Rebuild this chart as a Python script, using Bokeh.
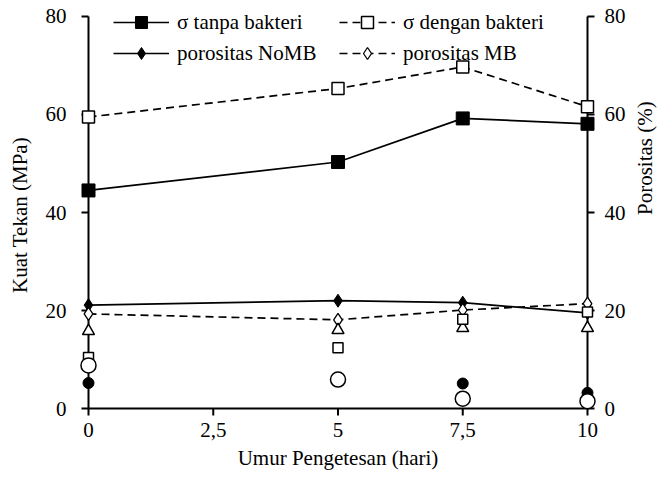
import numpy as np
from bokeh.plotting import figure
from bokeh.models import Range1d, LinearAxis, FixedTicker, Legend, LegendItem
from bokeh.embed import file_html
from bokeh.resources import INLINE

# ---- data ----
umur = [0, 5, 7.5, 10]
sigma_tanpa = [44.5, 50.3, 59.2, 58.1]
sigma_dengan = [59.5, 65.3, 69.7, 61.6]
por_nomb = [21.1, 22.0, 21.6, 19.5]
por_mb = [19.3, 18.1, 20.1, 21.4]
seri_segitiga = [15.8, 16.0, 16.4, 16.4]
seri_kotak = [10.4, 12.4, 18.2, 19.7]
seri_bulat = [5.2, 5.9, 5.1, 3.2]
seri_lingkaran = [8.8, 5.9, 2.0, 1.5]

x_ticks = [0, 2.5, 5, 7.5, 10]
x_tick_labels = {2.5: "2,5", 7.5: "7,5"}
y_ticks = [0, 20, 40, 60, 80]

FONT = "Liberation Serif"
FS = "21px"
BLK = "black"

p = figure(width=672, height=479, output_backend="svg", toolbar_location=None,
           x_range=Range1d(-0.2405, 10.2405), y_range=Range1d(-2.04, 81.02),
           min_border_left=76, min_border_right=73, min_border_top=11, min_border_bottom=61)
p.extra_y_ranges = {"por": Range1d(-2.04, 81.02)}
p.xgrid.visible = False
p.ygrid.visible = False
p.outline_line_color = None
p.background_fill_color = "white"
p.border_fill_color = "white"

raxis = LinearAxis(y_range_name="por")
p.add_layout(raxis, "right")

# axes give the texts; their lines and ticks are drawn at the data bounds below
for ax in [p.xaxis[0], p.yaxis[0], raxis]:
    ax.axis_line_color = None
    ax.major_tick_line_color = None
    ax.major_tick_out = 0
    ax.major_tick_in = 0
    ax.minor_tick_line_color = None
    ax.major_label_text_font = FONT
    ax.major_label_text_font_size = FS
    ax.major_label_text_color = BLK
    ax.axis_label_text_font = FONT
    ax.axis_label_text_font_size = FS
    ax.axis_label_text_font_style = "normal"
    ax.axis_label_text_color = BLK

xa = p.xaxis[0]
xa.ticker = FixedTicker(ticks=x_ticks)
xa.major_label_overrides = x_tick_labels
xa.axis_label = "Umur Pengetesan (hari)"
xa.major_label_standoff = 4
xa.axis_label_standoff = 6

ya = p.yaxis[0]
ya.ticker = FixedTicker(ticks=y_ticks)
ya.axis_label = "Kuat Tekan (MPa)"
ya.major_label_standoff = 10
ya.axis_label_standoff = 11

raxis.ticker = FixedTicker(ticks=y_ticks)
raxis.axis_label = "Porositas (%)"
raxis.major_label_standoff = 5
raxis.axis_label_standoff = 16
try:
    raxis.axis_label_orientation = np.pi / 2
except Exception:
    pass

# axis lines and outward ticks at the data bounds
AX_W = 2
x0, x1 = x_ticks[0], x_ticks[-1]
y0, y1 = y_ticks[0], y_ticks[-1]
p.segment(x0=[x0, x0, x1], y0=[y0, y0, y0], x1=[x0, x1, x1], y1=[y1, y0, y1],
          line_color=BLK, line_width=AX_W)
p.ray(x=[x0] * len(y_ticks), y=y_ticks, length=7, length_units="screen", angle=np.pi,
      line_color=BLK, line_width=AX_W)
p.ray(x=[x1] * len(y_ticks), y=y_ticks, length=7, length_units="screen", angle=0,
      line_color=BLK, line_width=AX_W)
p.ray(x=x_ticks, y=[y0] * len(x_ticks), length=7, length_units="screen", angle=-np.pi / 2,
      line_color=BLK, line_width=AX_W)

LW = 1.7
DASH = "8 5"

l_nomb = p.line(umur, por_nomb, y_range_name="por", line_color=BLK, line_width=LW)
s_nomb = p.scatter(umur, por_nomb, y_range_name="por", marker="diamond", size=13,
                   fill_color=BLK, line_color=BLK)
l_mb = p.line(umur, por_mb, y_range_name="por", line_color=BLK, line_width=LW, line_dash=DASH)
s_mb = p.scatter(umur, por_mb, y_range_name="por", marker="diamond", size=13,
                 fill_color="white", line_color=BLK, line_width=1.3)

p.scatter(umur, seri_segitiga, marker="triangle", size=12, fill_color="white",
          line_color=BLK, line_width=1.5)
p.scatter(umur, seri_kotak, marker="square", size=10, fill_color="white",
          line_color=BLK, line_width=1.5)
p.scatter(umur, seri_bulat, marker="circle", size=11, fill_color=BLK, line_color=BLK)
p.scatter(umur, seri_lingkaran, marker="circle", size=15, fill_color="white",
          line_color=BLK, line_width=1.5)

l_t = p.line(umur, sigma_tanpa, line_color=BLK, line_width=LW)
s_t = p.scatter(umur, sigma_tanpa, marker="square", size=13, fill_color=BLK, line_color=BLK)
l_d = p.line(umur, sigma_dengan, line_color=BLK, line_width=LW, line_dash=DASH)
s_d = p.scatter(umur, sigma_dengan, marker="square", size=12, fill_color="white",
                line_color=BLK, line_width=1.5)


def make_legend(items, loc):
    return Legend(items=items, location=loc, orientation="vertical",
                  background_fill_alpha=0, border_line_color=None, padding=0, margin=0,
                  spacing=1, glyph_width=56, glyph_height=30, label_height=30,
                  label_standoff=8, label_text_font=FONT, label_text_font_size=FS,
                  label_text_color=BLK)


leg1 = make_legend([LegendItem(label="σ tanpa bakteri", renderers=[l_t, s_t]),
                    LegendItem(label="porositas NoMB", renderers=[l_nomb, s_nomb])], (37, 350))
leg2 = make_legend([LegendItem(label="σ dengan bakteri", renderers=[l_d, s_d]),
                    LegendItem(label="porositas MB", renderers=[l_mb, s_mb])], (263, 350))
p.add_layout(leg1)
p.add_layout(leg2)

open("out.html", "w").write(file_html(p, INLINE))
